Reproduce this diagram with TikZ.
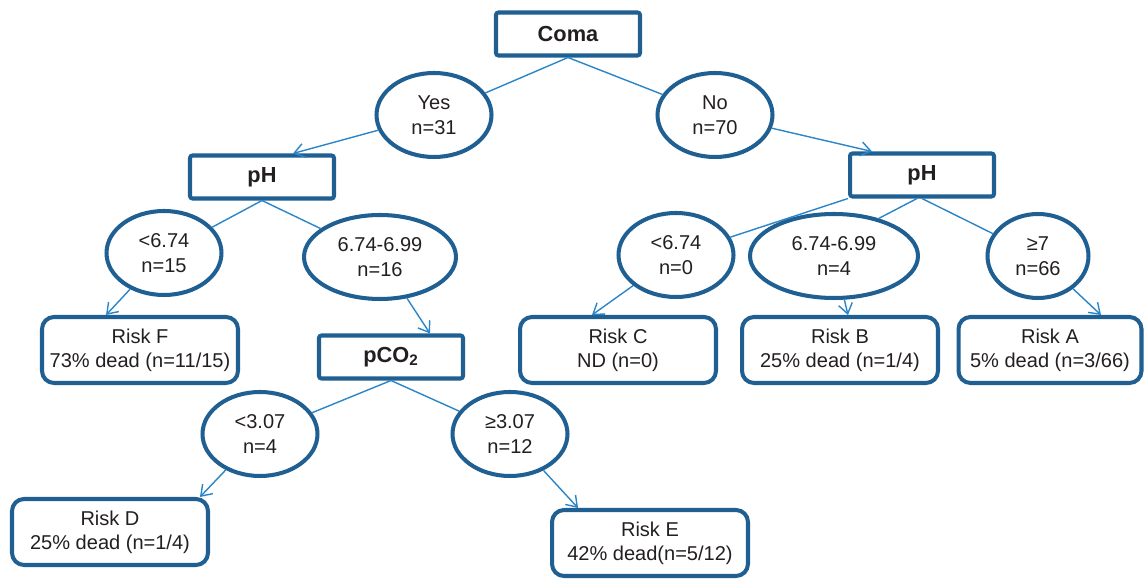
\documentclass[tikz,border=0pt]{standalone}
\usepackage{fontspec}
\setmainfont{Liberation Sans}
\usetikzlibrary{positioning,shapes,arrows.meta}

\definecolor{nodeblue}{HTML}{1F5F92}
\definecolor{edgeblue}{HTML}{2A86C8}
\definecolor{ink}{HTML}{231F20}

\begin{document}
\begin{tikzpicture}[
    x=0.02cm, y=-0.02cm,
    cond/.style={
        rectangle,
        draw=nodeblue,
        line width=2.3pt,
        rounded corners=0.5mm,
        minimum width=2.88cm,
        minimum height=0.86cm,
        text=ink,
        font=\fontsize{12.4}{14}\selectfont\bfseries,
        align=center
    },
    split/.style={
        ellipse,
        draw=nodeblue,
        line width=2.3pt,
        minimum width=2.3cm,
        minimum height=1.68cm,
        inner sep=0pt,
        text=ink,
        font=\fontsize{11.4}{14}\selectfont,
        align=center
    },
    risk/.style={
        rectangle,
        draw=nodeblue,
        line width=2.3pt,
        rounded corners=2.4mm,
        minimum width=3.92cm,
        minimum height=1.32cm,
        text=ink,
        font=\fontsize{11.4}{13.7}\selectfont,
        align=center
    },
    link/.style={
        draw=edgeblue,
        line width=0.8pt
    },
    arr/.style={
        link,
        -{Straight Barb[length=2mm,width=2.8mm]}
    }
]
    \useasboundingbox (0,0) rectangle (1147,580);

    % root
    \node (coma) [cond] at (568,34) {Coma};
    \node (yes) [split] at (434,115) {Yes\\n=31};
    \node (no) [split] at (715,115) {No\\n=70};

    % left branch
    \node (phL) [cond] at (262,177) {pH};
    \node (lowL) [split] at (164,253) {<6.74\\n=15};
    \node (midL) [split, minimum width=3.04cm] at (380,257) {6.74-6.99\\n=16};
    \node (riskF) [risk] at (140,350) {Risk F\\73\% dead (n=11/15)};
    \node (pco) [cond] at (391,357) {pCO\textsubscript{2}};
    \node (lowP) [split] at (260,434) {<3.07\\n=4};
    \node (highP) [split] at (510,434) {≥3.07\\n=12};
    \node (riskD) [risk] at (110,532) {Risk D\\25\% dead (n=1/4)};
    \node (riskE) [risk] at (650,543) {Risk E\\42\% dead(n=5/12)};

    % right branch
    \node (phR) [cond] at (922,175) {pH};
    \node (lowR) [split] at (676,255) {<6.74\\n=0};
    \node (midR) [split, minimum width=3.36cm] at (834,256) {6.74-6.99\\n=4};
    \node (highR) [split, minimum width=2.02cm] at (1038,256) {≥7\\n=66};
    \node (riskC) [risk] at (618,350) {Risk C\\ND (n=0)};
    \node (riskB) [risk] at (840,350) {Risk B\\25\% dead (n=1/4)};
    \node (riskA) [risk, minimum width=3.66cm] at (1050,350) {Risk A\\5\% dead (n=3/66)};

    % connectors
    \draw [link] (coma.south) -- (yes);
    \draw [link] (coma.south) -- (no);
    \draw [arr] (yes) -- ([xshift=0.62cm]phL.north);
    \draw [arr] (no) -- ([xshift=-1cm]phR.north);

    \draw [link] (phL.south) -- (lowL);
    \draw [link] (phL.south) -- (midL);
    \draw [arr] (lowL) -- ([xshift=-0.68cm]riskF.north);
    \draw [arr] (midL) -- ([xshift=0.78cm]pco.north);
    \draw [link] (pco.south) -- (lowP);
    \draw [link] (pco.south) -- (highP);
    \draw [arr] (lowP) -- ([xshift=1.8cm]riskD.north);
    \draw [arr] (highP) -- ([xshift=-1.44cm]riskE.north);

    \draw [link] (phR.south west) -- (lowR);
    \draw [link] ([xshift=-0.1cm]phR.south) -- (midR.40);
    \draw [link] (phR.south) -- (highR);
    \draw [arr] (lowR) -- ([xshift=-0.52cm]riskC.north);
    \draw [arr] (midR) -- ([xshift=0.16cm]riskB.north);
    \draw [arr] (highR) -- ([xshift=1.02cm]riskA.north);
\end{tikzpicture}
\end{document}
